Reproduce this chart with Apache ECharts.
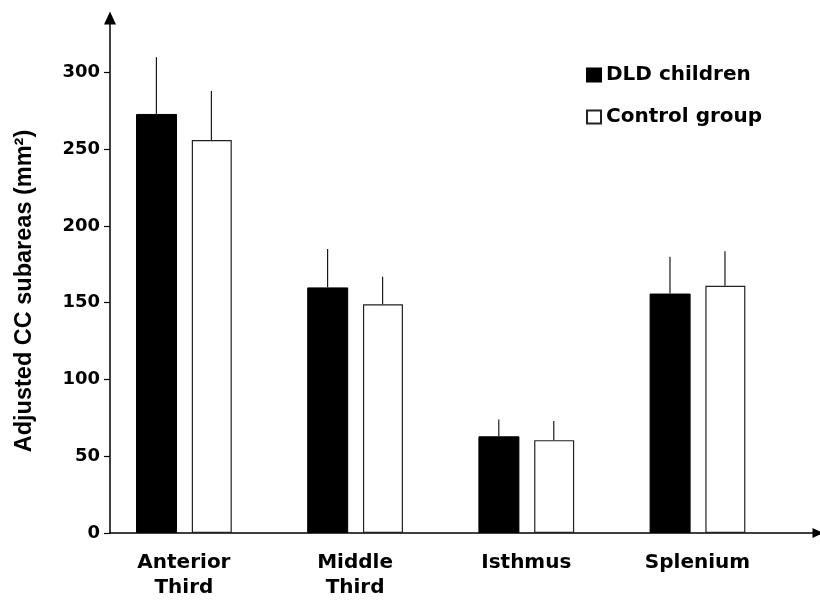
<!DOCTYPE html>
<html>
<head>
<meta charset="utf-8">
<script src="https://cdn.jsdelivr.net/npm/echarts@6/dist/echarts.min.js"></script>
<style>html,body{margin:0;padding:0;background:#fff;}#c{width:820px;height:600px;}</style>
</head>
<body>
<div id="c"></div>
<script>
const categories = ['Anterior\nThird', 'Middle\nThird', 'Isthmus', 'Splenium'];
const dldValues = [273, 160, 63, 156];
const dldUpper = [310, 185, 74, 180];
const ctrlValues = [256, 149, 60.5, 161];
const ctrlUpper = [288, 167, 73, 183.5];
const yTicks = [0, 50, 100, 150, 200, 250, 300];
const seriesNames = ['DLD children', 'Control group'];

const chart = echarts.init(document.getElementById('c'), null, {renderer: 'canvas'});
const idx = categories.map((c, i) => i);
const barOffset = 27.5;

function errSeries(values, upper, dir) {
  return {
    type: 'custom',
    silent: true,
    z: 3,
    encode: {x: 0, y: [1, 2]},
    data: idx.map(i => [i, values[i], upper[i]]),
    renderItem: function (params, api) {
      const p0 = api.coord([api.value(0), api.value(1)]);
      const p1 = api.coord([api.value(0), api.value(2)]);
      const x = p0[0] + dir * barOffset;
      return {
        type: 'line',
        shape: {x1: x, y1: p0[1], x2: x, y2: p1[1]},
        style: {stroke: '#1a1a1a', lineWidth: 1.2}
      };
    }
  };
}

const option = {
  animation: false,
  backgroundColor: '#fff',
  grid: {left: 110, right: 2, top: 18, bottom: 67, containLabel: false},
  legend: {
    orient: 'vertical',
    left: 586,
    top: 65,
    padding: 0,
    itemWidth: 14,
    itemHeight: 13,
    itemGap: 22,
    data: seriesNames.map(n => ({name: n, icon: 'rect'})),
    textStyle: {fontFamily: 'DejaVu Sans', fontWeight: 'bold', fontSize: 20, color: '#000', lineHeight: 20}
  },
  xAxis: {
    type: 'value',
    min: -0.4317,
    max: 3.704,
    splitLine: {show: false},
    axisTick: {show: false},
    axisLine: {show: true, onZero: false, symbol: ['none', 'triangle'], symbolSize: [10, 11], lineStyle: {color: '#000', width: 1.5}},
    axisLabel: {
      customValues: idx,
      formatter: v => categories[Math.round(v)],
      fontFamily: 'DejaVu Sans', fontWeight: 'bold', fontSize: 20, color: '#000',
      lineHeight: 25, margin: 17
    }
  },
  yAxis: {
    type: 'value',
    min: 0,
    max: 335.5,
    splitLine: {show: false},
    axisLine: {show: true, onZero: false, symbol: ['none', 'triangle'], symbolSize: [12, 13], lineStyle: {color: '#000', width: 1.5}},
    axisTick: {show: true, customValues: yTicks, length: 6, lineStyle: {color: '#000', width: 1.2}},
    axisLabel: {
      customValues: yTicks,
      fontFamily: 'DejaVu Sans', fontWeight: 'bold', fontSize: 18, color: '#000', margin: 10
    }
  },
  graphic: [{
    type: 'text',
    x: 25,
    y: 291,
    rotation: Math.PI / 2,
    style: {
      text: 'Adjusted CC subareas (mm\u00B2)',
      fontFamily: 'Liberation Sans', fontWeight: 'bold', fontSize: 23.5,
      fill: '#000', align: 'center', verticalAlign: 'middle'
    }
  }],
  series: [
    {
      name: seriesNames[0],
      type: 'bar',
      barWidth: 41,
      barGap: '36%',
      data: idx.map(i => [i, dldValues[i]]),
      itemStyle: {color: '#000', borderColor: '#000', borderWidth: 1}
    },
    {
      name: seriesNames[1],
      type: 'bar',
      barWidth: 40,
      barGap: '36%',
      data: idx.map(i => [i, ctrlValues[i]]),
      itemStyle: {color: '#fff', borderColor: '#222', borderWidth: 1.2}
    },
    errSeries(dldValues, dldUpper, -1),
    errSeries(ctrlValues, ctrlUpper, 1)
  ]
};
chart.setOption(option);
</script>
</body>
</html>
